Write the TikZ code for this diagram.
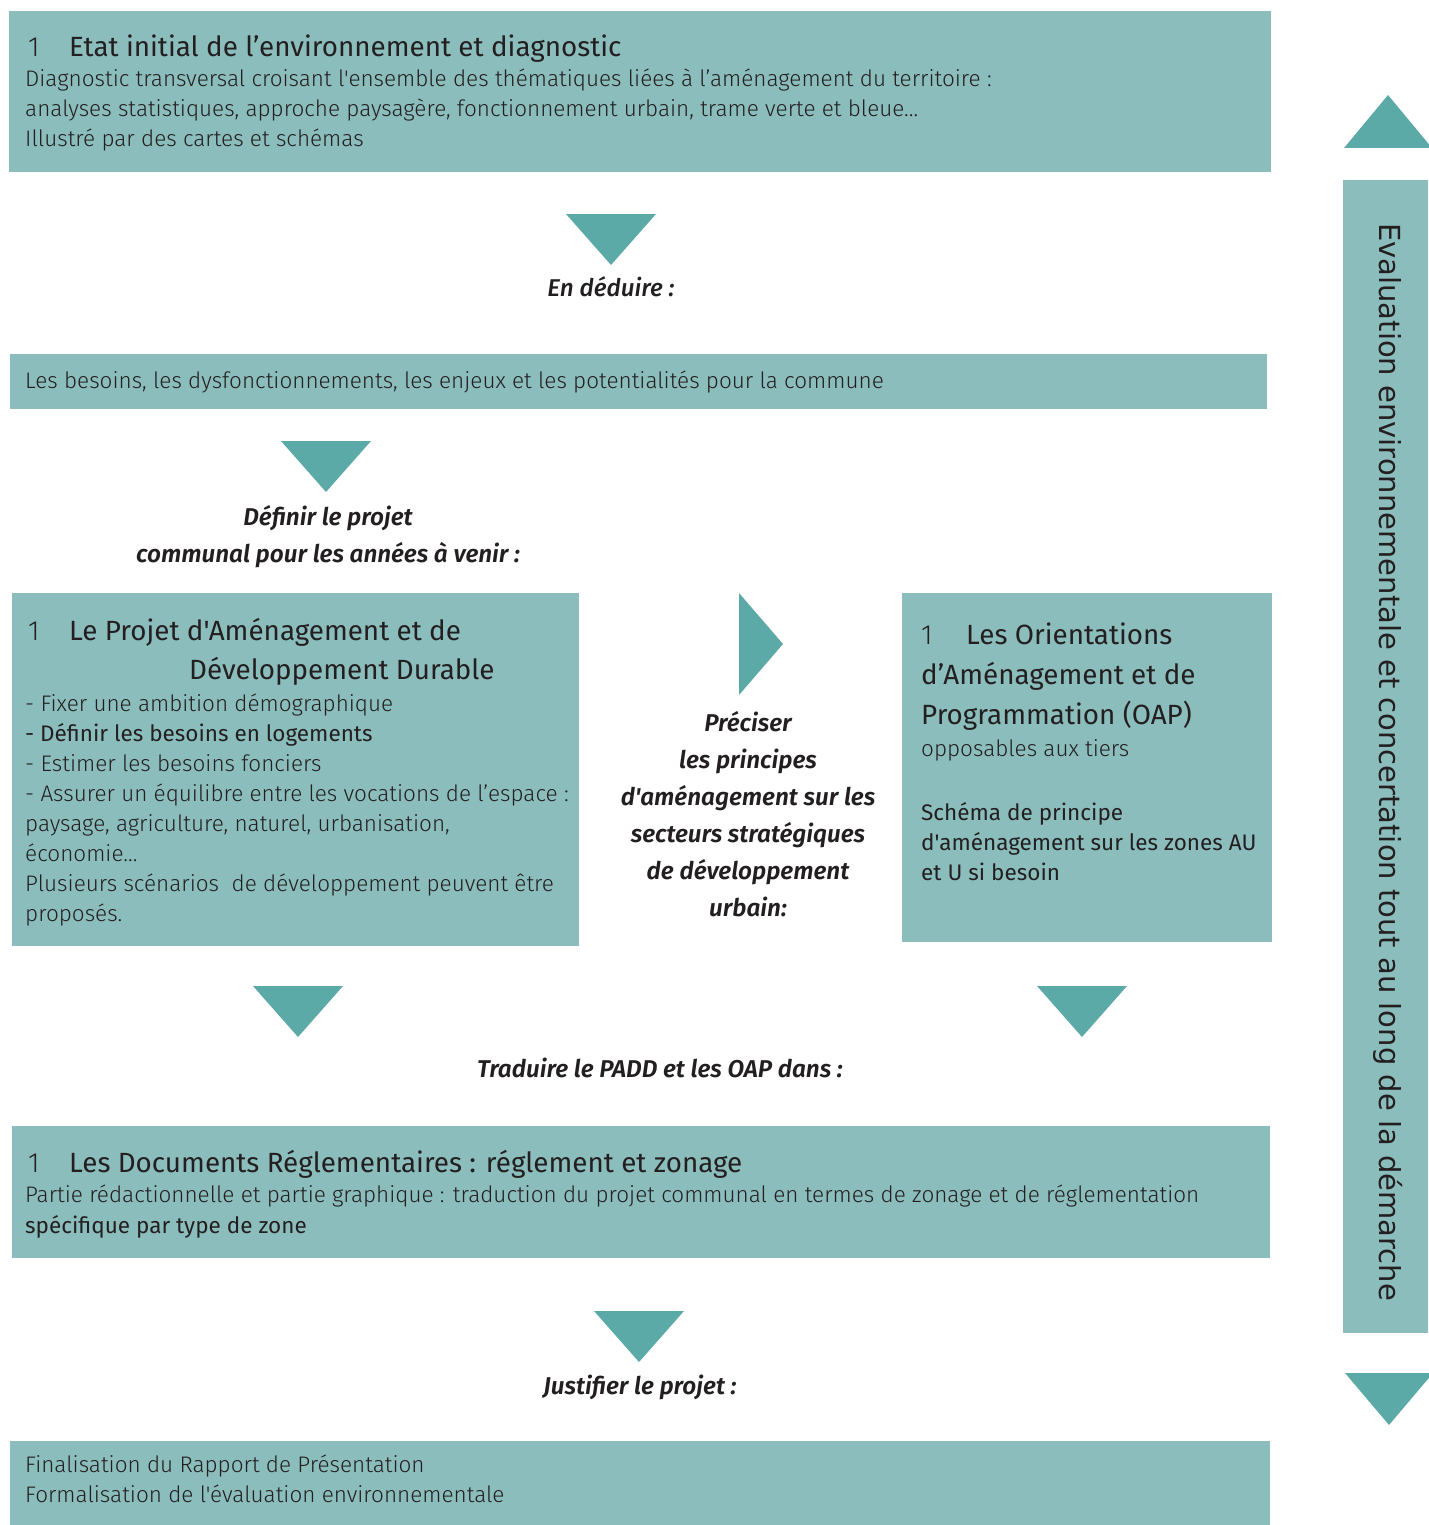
\documentclass[tikz,border=0pt]{standalone}
\usepackage{fontspec}
\setmainfont{Fira Sans}[Ligatures=TeXOff, UprightFont=* Light, BoldFont=* Medium,
  ItalicFont=* Medium Italic, BoldItalicFont=* SemiBold Italic]
\newfontfamily\plainfont{Fira Sans}
\newfontfamily\vertfont{DejaVu Sans}
\usepackage{tikz}
\definecolor{boxfill}{RGB}{139,189,188}
\definecolor{arrowfill}{RGB}{91,170,167}
\definecolor{ink}{RGB}{35,31,32}
\def\num#1{\makebox[41pt][l]{\rmfamily #1}}
\def\tridown#1#2{\fill[arrowfill] (#1-45,#2) -- (#1+45,#2) -- (#1,#2+51) -- cycle;}

\begin{document}
\begin{tikzpicture}[x=1pt, y=-1pt,
                    box/.style = {fill=boxfill, anchor=north west, inner sep=0pt},
                    txt/.style = {anchor=base west, align=left, inner sep=0pt, text=ink,
                      font=\fontsize{22.5}{30}\selectfont},
                    head/.style = {anchor=base west, align=left, inner sep=0pt, text=ink,
                      font=\fontsize{27.8}{40}\plainfont},
                    lbl/.style = {anchor=base, align=center, inner sep=0pt, text=ink,
                      font=\fontsize{24.3}{37}\selectfont\bfseries\itshape}]
  \useasboundingbox (0,0) rectangle (1428,1525);
  \node[box, minimum width=1262pt, minimum height=161pt] (etat) at (9,11) {};
  \node[box, minimum width=1257pt, minimum height=55pt] (besoins) at (10,354) {};
  \node[box, minimum width=567pt, minimum height=353pt] (padd) at (12,593) {};
  \node[box, minimum width=370pt, minimum height=349pt] (oap) at (902,593) {};
  \node[box, minimum width=1258pt, minimum height=132pt] (docs) at (12,1126) {};
  \node[box, minimum width=1260pt, minimum height=84pt] (rapport) at (10,1441) {};
  \node[box, minimum width=85pt, minimum height=1153pt] (evalbar) at (1343,180) {};

  \tridown{611}{214}
  \tridown{326}{441}
  \tridown{298}{986}
  \tridown{1082}{986}
  \tridown{639}{1311}
  \fill[arrowfill] (739,593) -- (783,644) -- (739,695) -- cycle;
  \fill[arrowfill] (1344,148) -- (1388,95) -- (1432,148) -- cycle;
  \fill[arrowfill] (1345,1373) -- (1433,1373) -- (1389,1425) -- cycle;

  \node[head] (etatT) at (28,57) {\num{1}Etat initial de l’environnement et diagnostic};
  \node[txt] (etatB) at (25,147) {Diagnostic transversal croisant l'ensemble des thématiques liées à l’aménagement du territoire :\\
    analyses statistiques, approche paysagère, fonctionnement urbain, trame verte et bleue…\\
    Illustré par des cartes et schémas};
  \node[lbl, font=\fontsize{24.3}{37}\selectfont\mdseries\itshape] (deduire) at (611,296) {En déduire :};
  \node[txt] (besoinsT) at (25,388) {Les besoins, les dysfonctionnements, les enjeux et les potentialités pour la commune};
  \node[lbl] (definir) at (328,562) {Définir le projet\\communal pour les années à venir :};

  \node[head, font=\fontsize{27.8}{39}\plainfont] (paddT) at (28,679)
    {\num{1}Le Projet d'Aménagement et de\\\hspace*{161pt}Développement Durable};
  \node[txt] (paddB) at (25,921) {- Fixer une ambition démographique\\
    {\plainfont - Définir les besoins en logements}\\
    - Estimer les besoins fonciers\\
    - Assurer un équilibre entre les vocations de l’espace :\\
    paysage, agriculture, naturel, urbanisation,\\
    économie…\\
    Plusieurs scénarios \ de développement peuvent être\\
    proposés.};
  \node[lbl] (preciser) at (748,916) {Préciser\\les principes\\d'aménagement sur les\\secteurs stratégiques\\de développement\\urbain:};

  \node[head] (oapT) at (921,724)
    {\makebox[45pt][l]{\rmfamily 1}Les Orientations\\d’Aménagement et de\\Programmation (OAP)};
  \node[txt] (oapS) at (921,756) {opposables aux tiers};
  \node[txt, font=\fontsize{22.5}{30}\plainfont] (oapB) at (921,880) {Schéma de principe\\d'aménagement sur les zones AU\\et U si besoin};

  \node[lbl] (traduire) at (660,1077) {Traduire le PADD et les OAP dans :};
  \node[head] (docsT) at (28,1172) {\num{1}Les Documents Réglementaires : réglement et zonage};
  \node[txt, font=\fontsize{22.5}{31}\selectfont] (docsB) at (25,1233) {Partie rédactionnelle et partie graphique : traduction du projet communal en termes de zonage et de réglementation\\
    {\plainfont spécifique par type de zone}};
  \node[lbl] (justifier) at (640,1394) {Justifier le projet :};
  \node[txt] (rapportT) at (25,1502) {Finalisation du Rapport de Présentation\\Formalisation de l'évaluation environnementale};

  \node[rotate=-90, inner sep=0pt, text=ink, font=\vertfont\fontsize{29}{30}\selectfont] (evalT) at (1388,762)
    {Evaluation environnementale et concertation tout au long de la démarche};
\end{tikzpicture}
\end{document}
